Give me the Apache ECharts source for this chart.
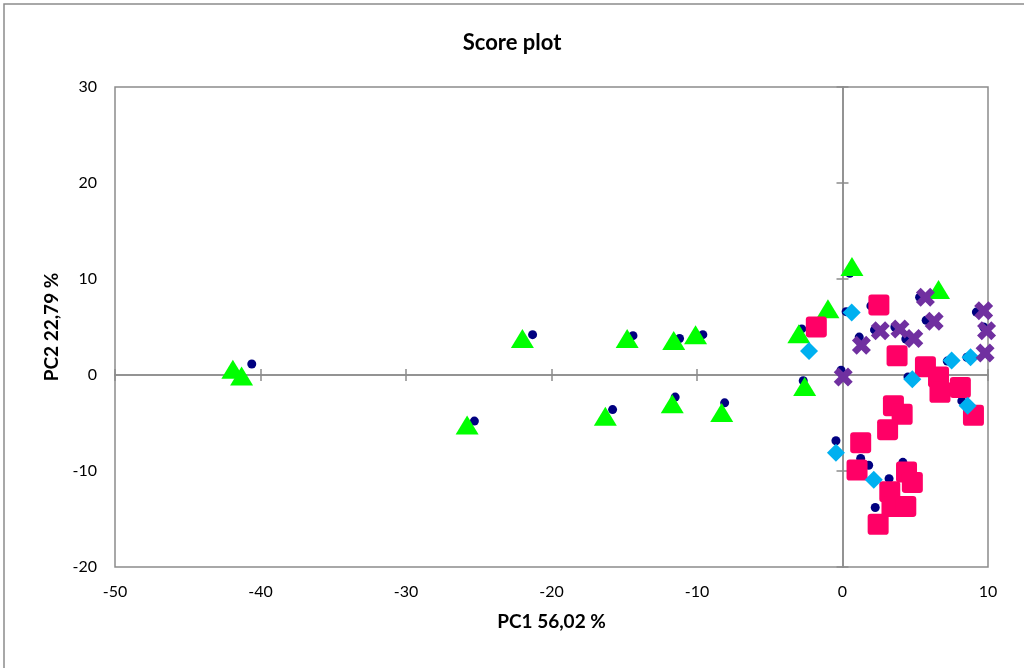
<!DOCTYPE html>
<html>
<head>
<meta charset="utf-8">
<title>Score plot</title>
<script src="https://cdn.jsdelivr.net/npm/echarts@6/dist/echarts.min.js"></script>
<style>
  html, body { margin: 0; padding: 0; background: #fff; }
  #main { width: 1024px; height: 668px; }
</style>
</head>
<body>
<div id="main"></div>
<script>
// axis ranges / ticks
var xTicks = [-50, -40, -30, -20, -10, 0, 10];
var yTicks = [-20, -10, 0, 10, 20, 30];

// all samples (small navy dots)
var allSamples = [
    [-40.6, 1.15], [-25.3, -4.8], [-21.3, 4.2], [-14.4, 4.1], [-11.2, 3.8], [-9.6, 4.2],
    [-15.8, -3.6], [-11.5, -2.3], [-8.1, -2.9], [-2.8, 4.8], [-2.7, -0.6], [0.5, 10.6],
    [0.25, 6.6], [-0.1, 0.5], [1.15, 3.95], [2.2, 4.7], [1.95, 7.2], [5.3, 8.1],
    [5.75, 5.7], [4.35, 3.75], [3.6, 5.0], [9.2, 6.55], [9.7, 5.0], [7.2, 1.45],
    [8.55, 1.85], [4.5, -0.2], [8.2, -2.7], [-0.45, -6.85], [1.25, -8.7], [1.8, -9.4],
    [4.15, -9.1], [3.2, -10.8], [2.25, -13.8]
];
var groupGreen = [
    [-41.9, 0.6], [-41.3, -0.1], [-25.8, -5.2], [-22.0, 3.8], [-16.3, -4.3], [-14.8, 3.8],
    [-11.7, -3.0], [-11.6, 3.6], [-10.1, 4.2], [-8.3, -3.9], [-3.0, 4.3], [-2.6, -1.2],
    [-1.0, 6.9], [0.65, 11.3], [6.6, 8.9]
];
var groupPink = [
    [-1.8, 5.0], [2.5, 7.3], [3.75, 2.0], [5.7, 0.85], [6.6, -0.2], [6.7, -1.8],
    [8.1, -1.3], [9.0, -4.2], [3.5, -3.2], [4.1, -4.1], [3.1, -5.7], [1.25, -7.05],
    [1.0, -9.9], [4.4, -10.1], [4.8, -11.2], [3.25, -12.15], [3.4, -13.7], [4.35, -13.7],
    [2.45, -15.55]
];
var groupBlue = [
    [0.63, 6.5], [-2.3, 2.5], [7.5, 1.5], [8.8, 1.85], [4.8, -0.45], [8.6, -3.2],
    [-0.45, -8.1], [2.15, -10.9]
];
var groupPurple = [
    [0.05, -0.2], [1.3, 3.1], [2.6, 4.6], [3.95, 4.8], [4.9, 3.8], [5.7, 8.1],
    [6.3, 5.6], [9.7, 6.7], [9.9, 4.6], [9.8, 2.3]
];

var FONT = 'Lato';
var xMin = xTicks[0], xMax = xTicks[xTicks.length - 1];
var yMin = yTicks[0], yMax = yTicks[yTicks.length - 1];
var xStep = xTicks[1] - xTicks[0], yStep = yTicks[1] - yTicks[0];
var lineGray = '#8c8c8c';
var crossPath = 'path://M0,2.5 L2.5,0 L5,2.5 L7.5,0 L10,2.5 L7.5,5 L10,7.5 L7.5,10 L5,7.5 L2.5,10 L0,7.5 L2.5,5 Z';
// square with small rounded corners (excel style)
var squarePath = 'path://M3,0 H17 Q20,0 20,3 V17 Q20,20 17,20 H3 Q0,20 0,17 V3 Q0,0 3,0 Z';

// axis drawn through zero, only ticks, no labels
function zeroAxis(pos, inside) {
    var isY = pos === 'left' || pos === 'right';
    return {
        type: 'value', position: pos,
        min: isY ? yMin : xMin,
        max: isY ? yMax : xMax,
        interval: isY ? yStep : xStep,
        axisLine: { show: true, onZero: true, onZeroAxisIndex: 0, lineStyle: { color: lineGray, width: 1.5 } },
        axisTick: { show: true, inside: inside, length: 6, lineStyle: { color: lineGray, width: 1.5 } },
        axisLabel: { show: false },
        splitLine: { show: false }
    };
}

var option = {
    backgroundColor: '#fff',
    animation: false,
    title: {
        text: 'Score plot',
        left: 'center',
        top: 27,
        textStyle: { fontFamily: FONT, fontSize: 22, fontWeight: 'bold', color: '#000' }
    },
    graphic: [{
        type: 'rect',
        shape: { x: 4, y: 4, width: 1040, height: 700 },
        style: { fill: 'none', stroke: '#8c8c8c', lineWidth: 1.5 },
        silent: true
    }],
    grid: {
        left: 115, right: 36, top: 87, bottom: 101,
        show: true, borderColor: lineGray, borderWidth: 1.5, backgroundColor: '#fff'
    },
    xAxis: [
        {
            type: 'value', position: 'bottom', min: xMin, max: xMax, interval: xStep,
            name: 'PC1 56,02 %', nameLocation: 'middle', nameGap: 45,
            nameTextStyle: { fontFamily: FONT, fontSize: 19, fontWeight: 'bold', color: '#000' },
            axisLine: { show: false, onZero: false },
            axisTick: { show: false },
            axisLabel: { fontFamily: FONT, fontSize: 16, color: '#000', margin: 17 },
            splitLine: { show: false }
        },
        zeroAxis('bottom', false),
        zeroAxis('top', false)
    ],
    yAxis: [
        {
            type: 'value', position: 'left', min: yMin, max: yMax, interval: yStep,
            name: 'PC2 22,79 %', nameLocation: 'middle', nameGap: 54, nameRotate: 90,
            nameTextStyle: { fontFamily: FONT, fontSize: 19, fontWeight: 'bold', color: '#000' },
            axisLine: { show: false, onZero: false },
            axisTick: { show: false },
            axisLabel: { fontFamily: FONT, fontSize: 16, color: '#000', margin: 18 },
            splitLine: { show: false }
        },
        zeroAxis('left', false),
        zeroAxis('right', false)
    ],
    series: [
        {
            name: 'samples', type: 'scatter', data: allSamples,
            symbol: 'circle', symbolSize: 9,
            itemStyle: { color: '#000080', opacity: 1 }
        },
        {
            name: 'green', type: 'scatter', data: groupGreen,
            symbol: 'triangle', symbolSize: [23, 19],
            itemStyle: { color: '#00ff00', opacity: 1 }
        },
        {
            name: 'pink', type: 'scatter', data: groupPink,
            symbol: squarePath, symbolSize: 21,
            itemStyle: { color: '#ff0066', opacity: 1 }
        },
        {
            name: 'blue', type: 'scatter', data: groupBlue,
            symbol: 'diamond', symbolSize: 18,
            itemStyle: { color: '#00b0f0', opacity: 1 }
        },
        {
            name: 'purple', type: 'scatter', data: groupPurple,
            symbol: crossPath, symbolSize: 19,
            itemStyle: { color: '#7030a0', opacity: 1 }
        }
    ]
};

var myChart = echarts.init(document.getElementById('main'));
myChart.setOption(option);
</script>
</body>
</html>
